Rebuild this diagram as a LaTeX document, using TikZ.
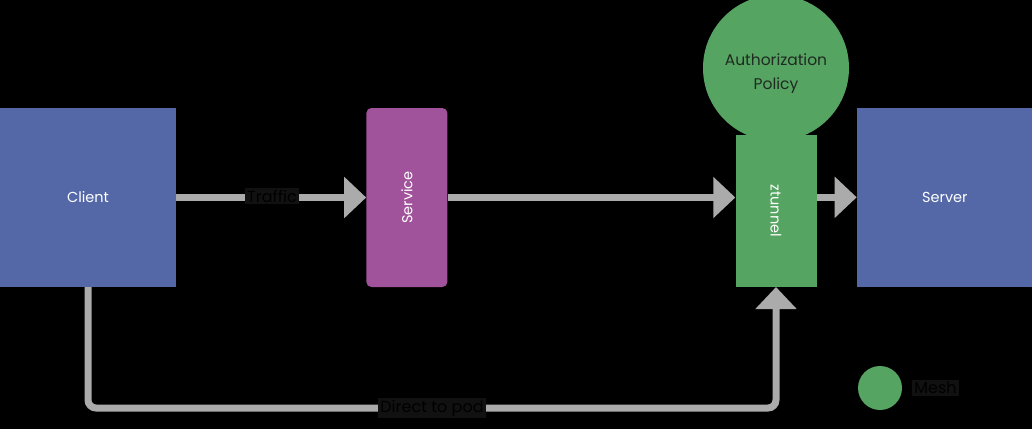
\documentclass[tikz,border=0pt]{standalone}
\usepackage{fontspec}
\setmainfont{Poppins}
\usetikzlibrary{arrows.meta,positioning}
\definecolor{meshblue}{HTML}{5468A8}
\definecolor{svcpurple}{HTML}{A0529A}
\definecolor{meshgreen}{HTML}{55A462}
\definecolor{flowgray}{HTML}{ABABAB}
\definecolor{tagfill}{HTML}{111111}
\definecolor{policytext}{HTML}{1F2A20}
\begin{document}
\begin{tikzpicture}[x=1pt,y=-1pt,node distance=0pt,font=\fontsize{14.5}{17}\selectfont,
pod/.style={fill=meshblue,text=white,minimum width=176pt,minimum height=179pt,inner sep=0pt},
proxy/.style={fill=#1,text=white,minimum width=81pt,inner sep=0pt},
flow/.style={draw=flowgray,line width=7pt,-{Triangle[width=40pt,length=22pt]}},
tag/.style={fill=tagfill,text=black,inner sep=2pt,font=\fontsize{16}{19}\selectfont}]
\useasboundingbox[fill=black](0,0) rectangle (1032,429);
\node[pod](client) at (88,197.5){Client};
\node[proxy=svcpurple,rounded corners=5pt,minimum height=179pt,right=190pt of client](service){\rotatebox{90}{Service}};
\node[circle,fill=meshgreen,minimum size=146pt,inner sep=0pt](policy) at (776,68){};
\node[text=policytext,align=center,font=\fontsize{15.5}{24}\selectfont](policyname) at (776,74){Authorization\\Policy};
\node[proxy=meshgreen,minimum height=152pt,anchor=south](ztunnel) at (776,287){\rotatebox{-90}{ztunnel}};
\node[pod,right=40pt of ztunnel.south east,anchor=south west](server){Server};
\draw[flow](client)--(service);
\draw[flow](service)--(ztunnel.west|-service.east);
\draw[flow](ztunnel.east|-server.west)--(server);
\coordinate(bend) at (776,408);
\draw[flow,rounded corners=8pt](client.south)|-(bend)--(ztunnel.south);
\node[tag](traffic) at (272,196){Traffic};
\node[tag,minimum width=96pt,minimum height=16pt](direct) at (432,408){Direct to pod};
\node[text=black](dest) at (935,75){Destination};
\node[text=black](route) at (590,119){Service routes to the ztunnel};
% legend
\node[circle,fill=meshgreen,minimum size=44pt,inner sep=0pt](key) at (880,388){};
\node[tag,right=10pt of key](mesh){Mesh};
\end{tikzpicture}
\end{document}
